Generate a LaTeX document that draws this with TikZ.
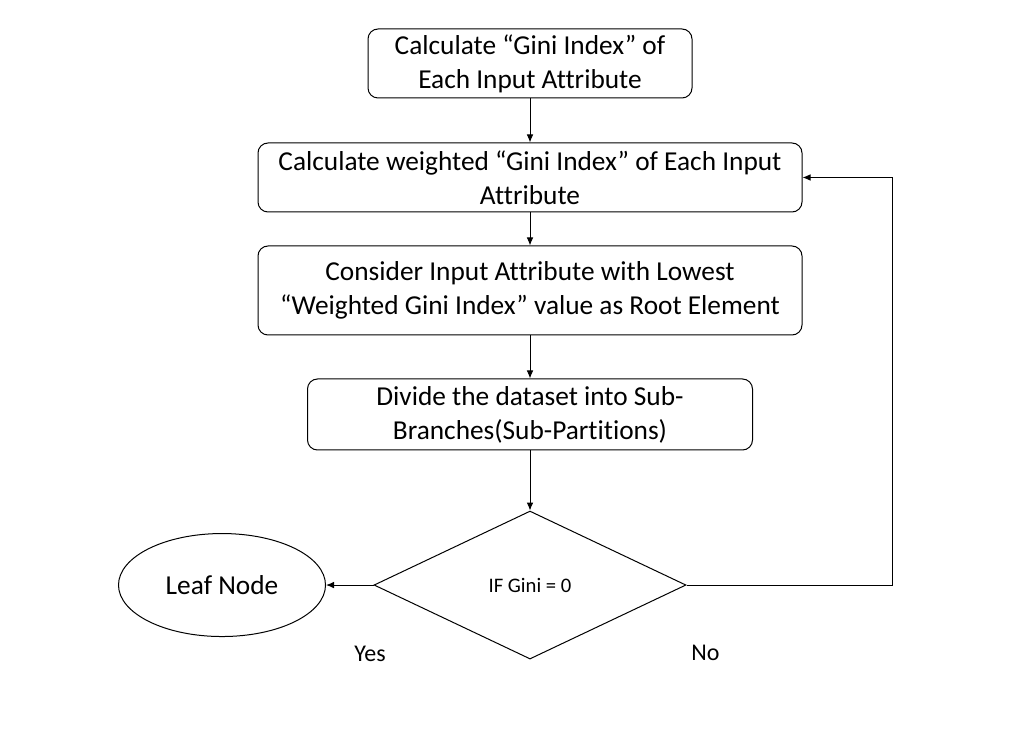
\documentclass[tikz,border=0pt]{standalone}
\usepackage{fontspec}
\setmainfont{Carlito}[Ligatures=NoCommon]
\usetikzlibrary{positioning,shapes.geometric,arrows.meta}

\begin{document}
\begin{tikzpicture}[x=0.75pt,y=-0.75pt,on grid,line width=0.75pt,
    procbox/.style={draw,rounded corners=7.5pt,align=center,inner sep=0pt,
      font=\fontsize{20.5}{25.5}\selectfont},
    decision/.style={draw,diamond,inner sep=0pt,minimum width=234pt,
      minimum height=111pt,font=\fontsize{15.5}{18}\selectfont},
    leaf/.style={draw,ellipse,inner sep=0pt,minimum width=155.25pt,
      minimum height=77.25pt,font=\fontsize{20.5}{24}\selectfont},
    lbl/.style={font=\fontsize{18}{21}\selectfont},
    flow/.style={-{Latex[length=6pt,width=5pt]}}]
  \useasboundingbox (0,0) rectangle (1035,737);

  \node[procbox,minimum width=243pt,minimum height=51.75pt] (gini) at (530,63.5)
    {Calculate “Gini Index” of\\Each Input Attribute};
  \node[procbox,minimum width=408pt,minimum height=51.75pt,below=85.5pt of gini] (wgini)
    {Calculate weighted “Gini Index” of Each Input\\Attribute};
  \node[procbox,minimum width=408pt,minimum height=66.75pt,below=84.75pt of wgini] (root)
    {Consider Input Attribute with Lowest\\“Weighted Gini Index” value as Root Element};
  \node[procbox,minimum width=333.75pt,minimum height=53.25pt,below=93pt of root] (divide)
    {Divide the dataset into Sub-\\Branches(Sub-Partitions)};
  \node[decision,below=127.9pt of divide] (check) {IF Gini = 0};
  \node[leaf,left=231pt of check] (leaf) {Leaf Node};

  \node[lbl] (yes) at (370,654) {Yes};
  \node[lbl] (no) at (705.5,653) {No};

  \draw[flow] (gini) -- (wgini);
  \draw[flow] (wgini) -- (root);
  \draw[flow] (root) -- (divide);
  \draw[flow] (divide) -- (check);
  \draw[flow] (check) -- (leaf);
  \draw[flow] (check.east) -- ++(206,0) |- (wgini.east);
\end{tikzpicture}
\end{document}
